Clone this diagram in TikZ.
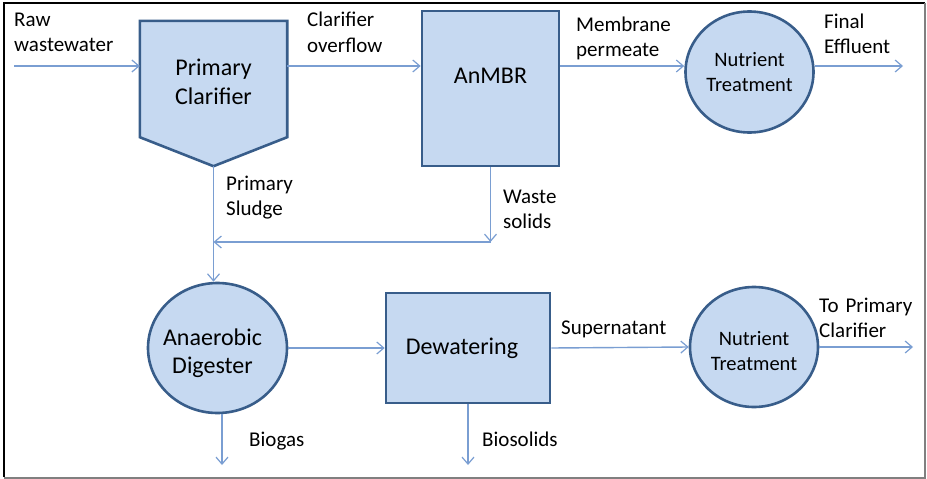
\documentclass[tikz,border=0pt]{standalone}
\usepackage{fontspec}
\setmainfont{Carlito}
\usetikzlibrary{arrows.meta,shapes.geometric,calc}
\definecolor{boxfill}{RGB}{198,217,241}
\definecolor{boxline}{RGB}{56,93,138}
\definecolor{flowc}{RGB}{122,158,210}
\begin{document}
\begin{tikzpicture}[x=1pt,y=-1pt,
  flow/.style={draw=flowc,line width=1.4pt,-{Straight Barb[length=7pt,width=12pt,line width=1.2pt]}},
  unit/.style={draw=boxline,fill=boxfill,line width=2.6pt},
  rectunit/.style={unit,rectangle,inner sep=0pt},
  roundunit/.style={unit,ellipse,inner sep=0pt},
  bigtxt/.style={font=\fontsize{24}{28.5}\selectfont,align=center,inner sep=0pt},
  midtxt/.style={font=\fontsize{20.5}{25}\selectfont,align=center,inner sep=0pt},
  flowlbl/.style={font=\fontsize{21}{25}\selectfont,text width=4cm,align=left,inner sep=0pt,anchor=base west}
]
\useasboundingbox (0,0) rectangle (927,479);
% frame
\draw[black,line width=2pt] (4,477) -- (4,3) -- (925,3);
\draw[gray,line width=1.2pt] (925,3) -- (925,478) -- (4,478);

% primary clarifier (pentagon)
\node[minimum width=147pt,minimum height=145pt,inner sep=0pt] (pc) at (213.5,93.5) {};
\draw[unit,line join=miter] (pc.north west) -- (pc.north east) -- ([yshift=29pt]pc.south east)
  -- (pc.south) -- ([yshift=29pt]pc.south west) -- cycle;
\node[bigtxt] (pctxt) at ([yshift=11.5pt]pc.center) {Primary\\Clarifier};

% units
\node[rectunit,minimum width=137pt,minimum height=155pt,
  label={[bigtxt,yshift=13pt]center:AnMBR}] (anmbr) at (490.5,88.5) {};
\node[roundunit,minimum width=128pt,minimum height=121pt,
  label={[midtxt]center:Nutrient\\Treatment}] (nt1) at (749.5,72) {};
\node[roundunit,minimum width=139pt,minimum height=130pt,
  label={[bigtxt,yshift=-5pt,xshift=-5pt]center:Anaerobic\\Digester}] (ad) at (217.5,348) {};
\node[rectunit,minimum width=164pt,minimum height=110pt,
  label={[bigtxt,xshift=-6pt]center:Dewatering}] (dw) at (468,348) {};
\node[roundunit,minimum width=128pt,minimum height=120pt,
  label={[midtxt,yshift=-4pt]center:Nutrient\\Treatment}] (nt2) at (754,347) {};

% free ends
\coordinate (raw) at (14,66);
\coordinate (eff) at (903,66);
\coordinate (ws) at (490.5,242);
\coordinate (bg) at (222,465);
\coordinate (tpc) at (913,347);

% connectors
\draw[flow] (raw) -- (raw -| pc.west);
\draw[flow] (raw -| pc.east) -- (raw -| anmbr.west);
\draw[flow] (raw -| anmbr.east) -- (raw -| nt1.west);
\draw[flow] (raw -| nt1.east) -- (eff);
\draw[flow] (pc.south) -- (pc.south |- ad.north);
\draw[flow] (anmbr.south) -- (ws);
\draw[flow] (ws) -- (ws -| pc.south);
\draw[flow] (ad.east) -- (dw.west);
\draw[flow] (bg |- ad.south) -- (bg);
\draw[flow] (dw.south) -- (dw.south |- bg);
\draw[flow] (dw.east) -- (nt2.west);
\draw[flow] (nt2.east) -- (tpc);

% labels
\node[flowlbl] (l1) at (14,26) {Raw\\wastewater};
\node[flowlbl] (l2) at (307,27) {Clarifier\\overflow};
\node[flowlbl] (l3) at (576,31) {Membrane\\permeate};
\node[flowlbl] (l4) at (824,28) {Final\\Effluent};
\node[flowlbl] (l5) at (226,190) {Primary\\Sludge};
\node[flowlbl] (l6) at (503,203) {Waste\\solids};
\node[flowlbl] (l7) at (249,446) {Biogas};
\node[flowlbl] (l8) at (482,446) {Biosolids};
\node[flowlbl] (l9) at (561,334) {Supernatant};
\node[flowlbl] (l10) at (819,312) {To Primary\\Clarifier};
\end{tikzpicture}
\end{document}
